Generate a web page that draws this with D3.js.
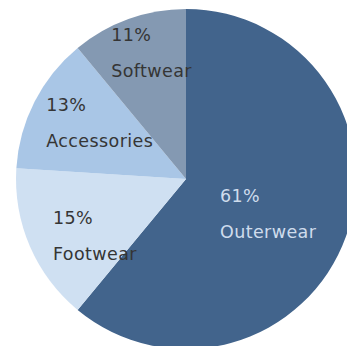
<!DOCTYPE html>
<html>
<head>
<meta charset="utf-8">
<script src="https://cdn.jsdelivr.net/npm/d3@7"></script>
<style>
  html, body { margin: 0; padding: 0; background: #ffffff; }
  svg { display: block; }
</style>
</head>
<body>
<svg id="chart" width="347" height="346"></svg>
<script>
// Apparel sales share by category
const categories = ["Outerwear", "Footwear", "Accessories", "Softwear"];
const shares = [61, 15, 13, 11];
const sliceColors = ["#42648c", "#cfe0f2", "#a9c6e6", "#8499b2"];
const textColors = ["#cfdcec", "#353535", "#353535", "#353535"];
// Hand-tuned label nudges (dx, dy) from each slice centroid
const labelNudges = [[-46, -6], [-55, 11], [-64, -29], [-46, -58]];

const width = 347, height = 346;
const cx = 186, cy = 179, radius = 170;

const svg = d3.select("#chart");
const g = svg.append("g").attr("transform", `translate(${cx},${cy})`);

const pie = d3.pie().sort(null).value(d => d.value);
const arc = d3.arc().innerRadius(0).outerRadius(radius);

const data = categories.map((c, i) => ({ name: c, value: shares[i], i }));
const arcs = pie(data);

g.selectAll("path.slice")
  .data(arcs)
  .join("path")
  .attr("class", "slice")
  .attr("d", arc)
  .attr("fill", d => sliceColors[d.data.i]);

const labels = g.selectAll("g.label")
  .data(arcs)
  .join("g")
  .attr("class", "label")
  .attr("transform", d => {
    const [x, y] = arc.centroid(d);
    const [dx, dy] = labelNudges[d.data.i];
    return `translate(${x + dx},${y + dy})`;
  })
  .style("font-family", "'DejaVu Sans', sans-serif")
  .style("font-size", "17.5px")
  .style("letter-spacing", "0.4px")
  .attr("fill", d => textColors[d.data.i]);

labels.append("text")
  .attr("x", 0).attr("y", 0)
  .text(d => `${d.data.value}%`);

labels.append("text")
  .attr("x", 0).attr("y", 36)
  .text(d => d.data.name);
</script>
</body>
</html>
